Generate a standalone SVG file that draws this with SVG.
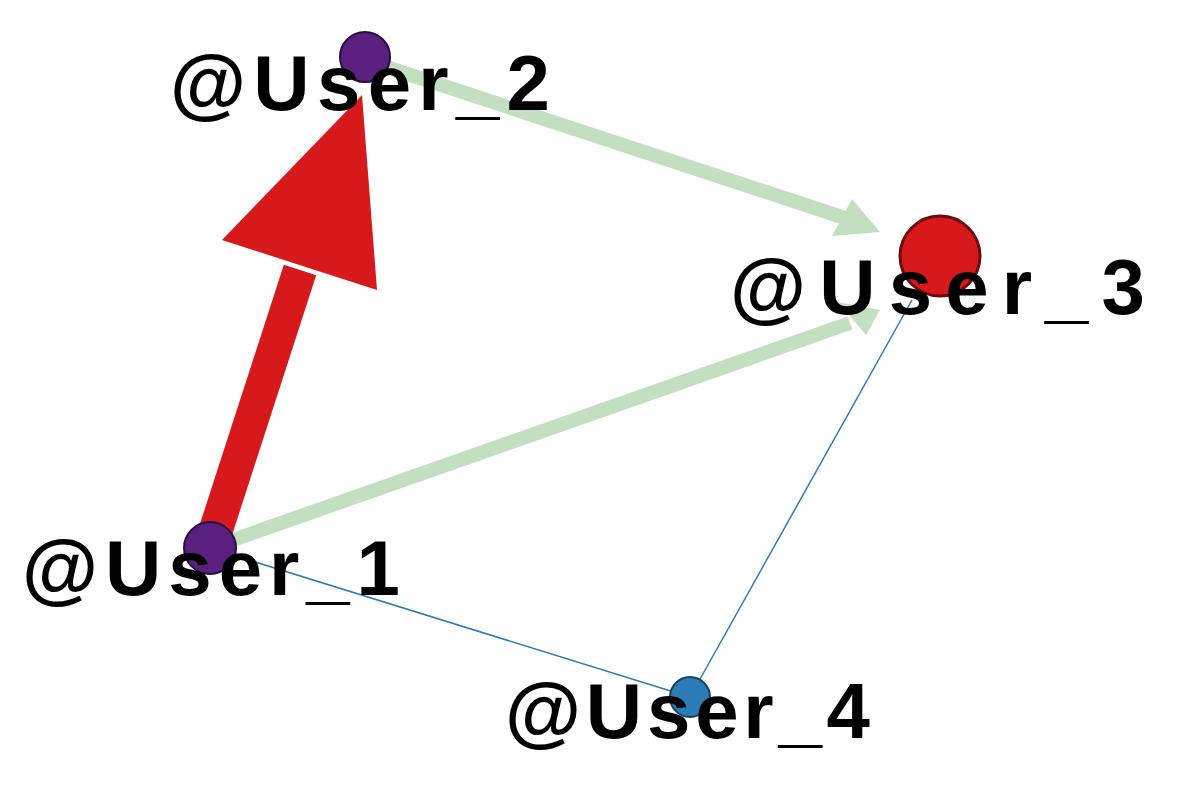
<svg xmlns="http://www.w3.org/2000/svg" width="1184" height="797" viewBox="0 0 1184 797">
<style>
.lbl{font-family:"Liberation Sans",Arial,sans-serif;font-weight:bold;font-size:78px;fill:#000}
.g{stroke:#c2dfc0;stroke-width:14;fill:none}
.b{stroke:#2c7bb6;stroke-width:1.5;fill:none}
</style>
<rect width="1184" height="797" fill="#fff"/>
<g id="connectors">
<line class="b" x1="210" y1="548" x2="690" y2="697"/>
<line class="b" x1="690" y1="697" x2="912" y2="300"/>
<line class="g" x1="365" y1="60" x2="845" y2="218"/>
<polygon points="832,236 852,199 880,232" fill="#c2dfc0"/>
<line class="g" x1="210" y1="548" x2="850" y2="323"/>
<polygon points="838,302 866,335 880,310" fill="#c2dfc0"/>
<line x1="210" y1="548" x2="300" y2="270" stroke="#d7191c" stroke-width="34"/>
<polygon points="222,240 377,290 362,95" fill="#d7191c"/>
</g>
<g id="User_2"><circle cx="365" cy="57" r="25" fill="#5b1f80" stroke="#2a0d40" stroke-width="2"/><text class="lbl" x="170" y="110" textLength="380">@User_2</text></g>
<g id="User_3"><circle cx="940" cy="256" r="40" fill="#d7191c" stroke="#6b0c0e" stroke-width="3"/><text class="lbl" x="730" y="314" textLength="415">@User_3</text></g>
<g id="User_1"><circle cx="210" cy="548" r="26" fill="#5b1f80" stroke="#2a0d40" stroke-width="2"/><text class="lbl" x="22" y="595" textLength="378">@User_1</text></g>
<g id="User_4"><circle cx="690" cy="697" r="20" fill="#2c7bb6" stroke="#174060" stroke-width="2"/><text class="lbl" x="505" y="738" textLength="365">@User_4</text></g>
</svg>
